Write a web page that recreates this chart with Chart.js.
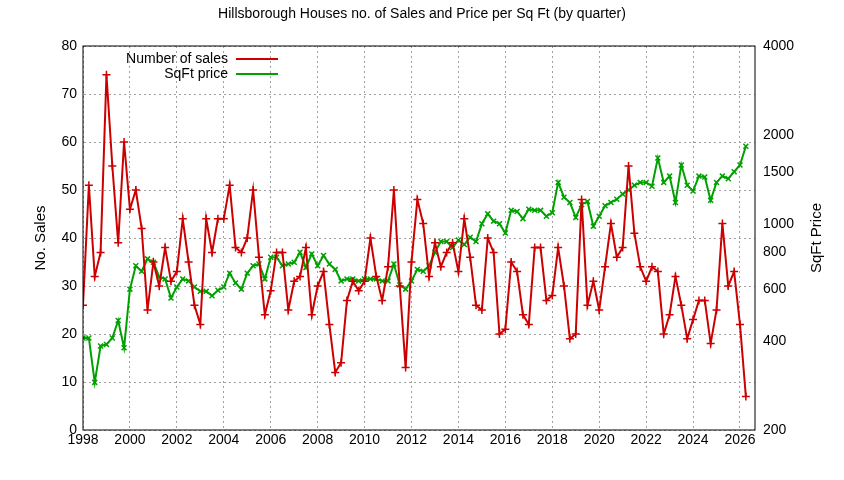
<!DOCTYPE html>
<html>
<head>
  <script src="https://cdn.jsdelivr.net/npm/chart.js"></script>
  <style>
    body { margin: 0; background: #fff; }
    #wrap { width: 844px; height: 480px; }
  </style>
</head>
<body>
  <div id="wrap"><canvas id="salesChart"></canvas></div>
  <script>
    const startYear = 1998;
    const sales = [
      26, 51, 32, 37,  74, 55, 39, 60,  46, 50, 42, 25,  35, 30, 38, 31,
      33, 44, 35, 26,  22, 44, 37, 44,  44, 51, 38, 37,  40, 50, 36, 24,
      29, 37, 37, 25,  31, 32, 38, 24,  30, 33, 22, 12,  14, 27, 31, 29,
      31, 40, 32, 27,  34, 50, 30, 13,  35, 48, 43, 32,  39, 34, 37, 39,
      33, 44, 36, 26,  25, 40, 37, 20,  21, 35, 33, 24,  22, 38, 38, 27,
      28, 38, 30, 19,  20, 48, 26, 31,  25, 34, 43, 36,  38, 55, 41, 34,
      31, 34, 33, 20,  24, 32, 26, 19,  23, 27, 27, 18,  25, 43, 30, 33,
      22, 7
    ];
    const sqftPrice = [
      410, 410, 290, 385,  390, 410, 470, 380,  600, 720, 690, 760,  740, 660, 650, 560,
      610, 650, 640, 610,  590, 590, 570, 595,  610, 680, 630, 600,  680, 720, 730, 650,
      770, 770, 720, 730,  740, 800, 710, 790,  720, 780, 730, 700,  640, 650, 650, 640,
      650, 650, 650, 640,  640, 730, 620, 600,  640, 700, 690, 720,  800, 870, 870, 830,
      880, 850, 900, 870,  1000, 1080, 1020, 1000,  930, 1110, 1100, 1040,  1120, 1110, 1110, 1060,
      1090, 1380, 1230, 1180,  1050, 1160, 1190, 980,  1060, 1150, 1180, 1210,  1260, 1300, 1350, 1380,
      1380, 1340, 1670, 1380,  1450, 1180, 1580, 1350,  1290, 1450, 1440, 1200,  1380, 1450, 1420, 1500,
      1580, 1830
    ];
    const yearTicks = [1998, 2000, 2002, 2004, 2006, 2008, 2010, 2012, 2014, 2016, 2018, 2020, 2022, 2024, 2026];
    const priceTicks = [200, 400, 600, 800, 1000, 1500, 2000, 4000];

    const toPoints = arr => arr.map((v, i) => ({x: startYear + i / 4, y: v}));
    const fontFamily = '"Liberation Sans", Arial, sans-serif';
    Chart.defaults.font.family = fontFamily;
    Chart.defaults.color = '#000';

    // gnuplot-style title, axis labels, legend and frame
    const decorations = {
      id: 'decorations',
      afterDraw(chart) {
        const ctx = chart.ctx, a = chart.chartArea;
        const midY = (a.top + a.bottom) / 2;
        ctx.save();
        ctx.strokeStyle = '#000';
        ctx.lineWidth = 1;
        ctx.strokeRect(a.left, a.top, a.right - a.left, a.bottom - a.top);
        ctx.fillStyle = '#000';
        ctx.font = '14px ' + fontFamily;
        ctx.textAlign = 'center';
        ctx.textBaseline = 'middle';
        ctx.fillText('Hillsborough Houses no. of Sales and Price per Sq Ft (by quarter)', 422, 14);

        ctx.font = '15px ' + fontFamily;
        ctx.save(); ctx.translate(41, midY); ctx.rotate(-Math.PI / 2);
        ctx.fillText('No. Sales', 0, 0); ctx.restore();
        ctx.save(); ctx.translate(817, midY); ctx.rotate(-Math.PI / 2);
        ctx.fillText('SqFt Price', 0, 0); ctx.restore();

        ctx.font = '14px ' + fontFamily;
        const entries = [['Number of sales', '#cc0000'], ['SqFt price', '#00a000']];
        entries.forEach((e, i) => {
          const y = 59 + i * 15;
          ctx.textAlign = 'right';
          ctx.fillStyle = '#000';
          ctx.fillText(e[0], 228, y);
          ctx.strokeStyle = e[1];
          ctx.lineWidth = 2;
          ctx.beginPath(); ctx.moveTo(236, y); ctx.lineTo(278, y); ctx.stroke();
        });
        ctx.restore();
      }
    };

    new Chart(document.getElementById('salesChart'), {
      type: 'line',
      data: {
        datasets: [
          {
            label: 'Number of sales', data: toPoints(sales), yAxisID: 'y',
            borderColor: '#cc0000', backgroundColor: '#cc0000', borderWidth: 2,
            pointStyle: 'cross', pointRadius: 4, pointBorderWidth: 1.5, tension: 0
          },
          {
            label: 'SqFt price', data: toPoints(sqftPrice), yAxisID: 'y2',
            borderColor: '#00a000', backgroundColor: '#00a000', borderWidth: 2,
            pointStyle: 'crossRot', pointRadius: 3.5, pointBorderWidth: 1.5, tension: 0
          }
        ]
      },
      options: {
        responsive: true,
        maintainAspectRatio: false,
        animation: false,
        layout: { padding: { top: 46, left: 0, right: 0, bottom: 0 } },
        plugins: { legend: { display: false }, tooltip: { enabled: false } },
        scales: {
          x: {
            type: 'linear', min: 1998, max: 2026.64,
            afterBuildTicks: s => { s.ticks = yearTicks.map(v => ({value: v})); },
            afterFit: s => { s.height = 50; },
            ticks: { font: { size: 14 }, padding: 2, maxRotation: 0, autoSkip: false, callback: v => String(v) },
            grid: { color: '#a0a0a0', drawTicks: false },
            border: { display: true, color: 'rgba(0,0,0,0)', dash: [2, 3] }
          },
          y: {
            position: 'left', min: 0, max: 80,
            ticks: { stepSize: 10, font: { size: 14 }, padding: 6 },
            afterFit: s => { s.width = 83; },
            grid: { color: '#a0a0a0', drawTicks: false },
            border: { display: true, color: 'rgba(0,0,0,0)', dash: [2, 3] }
          },
          y2: {
            type: 'logarithmic', position: 'right', min: 200, max: 4000,
            afterBuildTicks: s => { s.ticks = priceTicks.map(v => ({value: v})); },
            afterFit: s => { s.width = 89; },
            ticks: { font: { size: 14 }, padding: 8, callback: v => String(v) },
            grid: { drawOnChartArea: false, drawTicks: false },
            border: { display: false }
          }
        }
      },
      plugins: [decorations]
    });
  </script>
</body>
</html>
